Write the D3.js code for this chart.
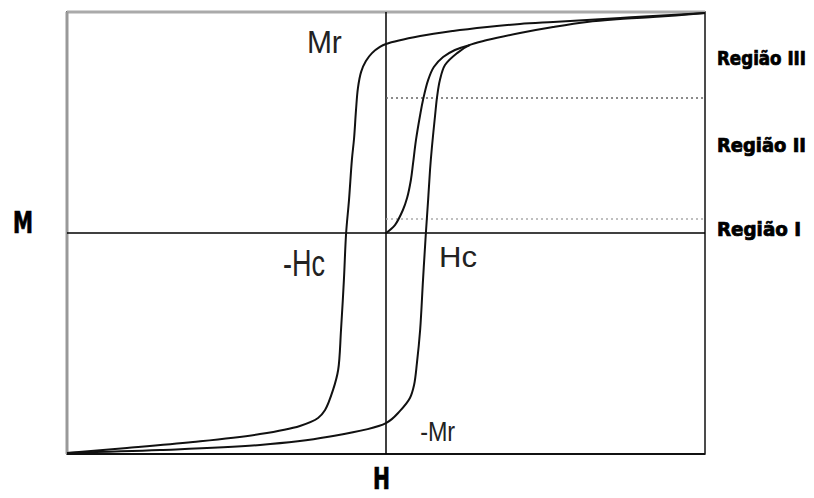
<!DOCTYPE html>
<head>
<meta charset="utf-8">
<title>Histerese</title>
<script src="https://cdn.jsdelivr.net/npm/d3@7"></script>
<style>
  body { margin: 0; background: #fff; }
  .curva { fill: none; stroke: #111; stroke-width: 2px; }
  .eixo { stroke: #000; stroke-width: 1.5px; }
  .nota { font-family: "Liberation Sans", Arial, sans-serif; fill: #222; }
  .rotulo { font-family: "Liberation Sans Narrow", "DejaVu Sans Condensed", "Liberation Sans", sans-serif; font-weight: bold; fill: #000; stroke: #000; stroke-width: 0.7px; }
</style>
</head>
<body>
<div id="chart"></div>
<script>
// ramo descendente (vindo da saturação positiva), valores H, M normalizados
var ramoDescH = [1.00, 0.837, 0.734, 0.630, 0.524, 0.420, 0.317, 0.210, 0.107, 0, -0.019, -0.044, -0.063, -0.078, -0.088, -0.094, -0.100, -0.107, -0.116, -0.125, -0.132, -0.141, -0.150, -0.166, -0.191, -0.213, -0.270, -0.395, -0.605, -0.812, -1.00];
var ramoDescM = [0.995, 0.982, 0.973, 0.964, 0.955, 0.946, 0.932, 0.914, 0.891, 0.855, 0.842, 0.814, 0.778, 0.729, 0.656, 0.557, 0.430, 0.330, 0.149, 0, -0.213, -0.439, -0.620, -0.710, -0.801, -0.837, -0.873, -0.910, -0.946, -0.973, -0.995];

// ramo ascendente (vindo da saturação negativa)
var ramoAscH = [-1.00, -0.708, -0.395, -0.185, 0, 0.044, 0.075, 0.088, 0.097, 0.107, 0.116, 0.125, 0.132, 0.138, 0.144, 0.154, 0.160, 0.169, 0.185, 0.223, 0.263, 0.317, 0.420, 0.524, 0.630, 0.734, 0.837, 1.00];
var ramoAscM = [-0.995, -0.982, -0.959, -0.923, -0.860, -0.805, -0.747, -0.688, -0.588, -0.439, -0.213, 0, 0.149, 0.285, 0.389, 0.534, 0.615, 0.692, 0.760, 0.814, 0.851, 0.873, 0.905, 0.932, 0.955, 0.968, 0.977, 0.995];

// curva de magnetização inicial
var virgemH = [0, 0.028, 0.053, 0.066, 0.078, 0.085, 0.094, 0.107, 0.116, 0.132, 0.150, 0.179, 0.216, 0.263];
var virgemM = [0, 0.036, 0.104, 0.158, 0.240, 0.317, 0.421, 0.534, 0.602, 0.692, 0.751, 0.796, 0.828, 0.851];

// limites das regiões
var regioesM = [0.063, 0.611];
var regioesCor = ["#aaa", "#666"];
var regioesNomes = ["Região I", "Região II", "Região III"];
var regioesNomeM = [-0.013, 0.367, 0.760];

// anotações (texto, H, M)
var notasTexto = ["Mr", "-Hc", "Hc", "-Mr"];
var notasH = [-0.248, -0.323, 0.166, 0.107];
var notasM = [0.814, -0.195, -0.154, -0.941];

var width = 814, height = 498;
var svg = d3.select("#chart").append("svg")
  .attr("width", width)
  .attr("height", height);

var x = d3.scaleLinear().domain([-1, 1]).range([67, 705]);
var y = d3.scaleLinear().domain([-1, 1]).range([454, 12]);

var linha = d3.line()
  .x(function(d) { return x(d[0]); })
  .y(function(d) { return y(d[1]); })
  .curve(d3.curveCatmullRom.alpha(0.5));

function pares(hs, ms) {
  return hs.map(function(h, i) { return [h, ms[i]]; });
}

// moldura
svg.append("rect")
  .attr("x", x(-1)).attr("y", y(1))
  .attr("width", x(1) - x(-1)).attr("height", y(-1) - y(1))
  .attr("fill", "none").attr("stroke", "#111").attr("stroke-width", 1.5);
svg.append("line")
  .attr("x1", x(-1)).attr("x2", x(1)).attr("y1", y(1)).attr("y2", y(1))
  .attr("stroke", "#aaa").attr("stroke-width", 3);
svg.append("line")
  .attr("x1", x(-1)).attr("x2", x(-1)).attr("y1", y(1)).attr("y2", y(-1))
  .attr("stroke", "#999").attr("stroke-width", 3);
svg.append("line")
  .attr("x1", x(-1)).attr("x2", x(1)).attr("y1", y(-1)).attr("y2", y(-1))
  .attr("stroke", "#111").attr("stroke-width", 2);

// eixos
svg.append("line").attr("class", "eixo")
  .attr("x1", x(-1)).attr("x2", x(1)).attr("y1", y(0)).attr("y2", y(0));
svg.append("line").attr("class", "eixo")
  .attr("x1", x(0)).attr("x2", x(0)).attr("y1", y(1)).attr("y2", y(-1));

// linhas pontilhadas das regiões
svg.selectAll(".regiao")
  .data(regioesM)
  .enter().append("line")
  .attr("class", "regiao")
  .attr("x1", x(0)).attr("x2", x(1))
  .attr("y1", function(d) { return y(d); })
  .attr("y2", function(d) { return y(d); })
  .attr("stroke", function(d, i) { return regioesCor[i]; })
  .attr("stroke-width", 1.5)
  .attr("stroke-dasharray", "2,3");

// curvas
[pares(ramoDescH, ramoDescM), pares(ramoAscH, ramoAscM), pares(virgemH, virgemM)].forEach(function(c) {
  svg.append("path").attr("class", "curva").attr("d", linha(c));
});

// anotações
var notasTam = [31, 36, 30, 27];
var notasLarg = [35, 42, 38, 35];
svg.selectAll(".nota")
  .data(notasTexto)
  .enter().append("text")
  .attr("class", "nota")
  .attr("x", function(d, i) { return x(notasH[i]); })
  .attr("y", function(d, i) { return y(notasM[i]); })
  .attr("font-size", function(d, i) { return notasTam[i]; })
  .attr("textLength", function(d, i) { return notasLarg[i]; })
  .attr("lengthAdjust", "spacingAndGlyphs")
  .text(function(d) { return d; });

// nomes das regiões
var regLarg = [84, 89, 89];
svg.selectAll(".regnome")
  .data(regioesNomes)
  .enter().append("text")
  .attr("class", "rotulo")
  .attr("x", 717)
  .attr("y", function(d, i) { return y(regioesNomeM[i]); })
  .attr("font-size", 19)
  .attr("textLength", function(d, i) { return regLarg[i]; })
  .attr("lengthAdjust", "spacingAndGlyphs")
  .text(function(d) { return d; });

// títulos dos eixos
svg.append("text").attr("class", "rotulo")
  .attr("x", 13).attr("y", y(0))
  .attr("font-size", 30)
  .attr("textLength", 20).attr("lengthAdjust", "spacingAndGlyphs")
  .text("M");
svg.append("text").attr("class", "rotulo")
  .attr("x", x(0) - 13).attr("y", 489)
  .attr("font-size", 30)
  .attr("textLength", 17).attr("lengthAdjust", "spacingAndGlyphs")
  .text("H");
</script>
</body>
</html>
